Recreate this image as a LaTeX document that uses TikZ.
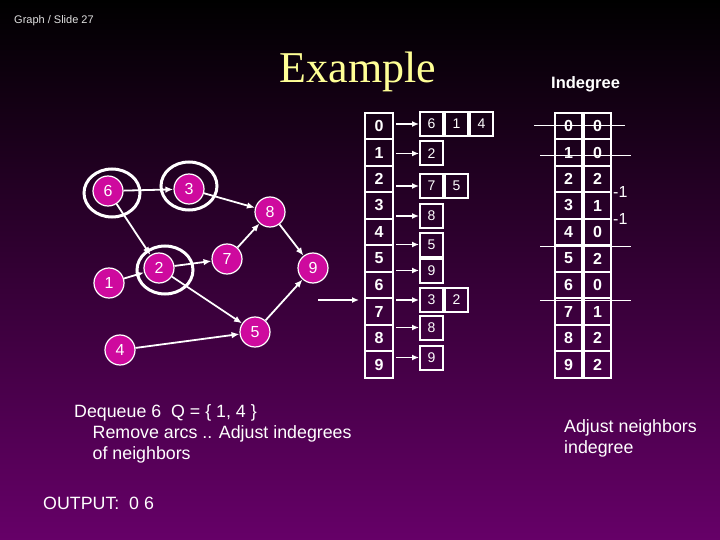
\documentclass[tikz,border=0pt]{standalone}
\usepackage{fontspec}
\setmainfont{Liberation Sans}
\newfontfamily\titlefont{Liberation Serif}
\usetikzlibrary{shapes, arrows, positioning, calc}
\usetikzlibrary{arrows.meta}

\definecolor{slidepurple}{RGB}{102,0,104}
\definecolor{vertexpink}{RGB}{206,10,158}
\definecolor{titleyellow}{RGB}{255,255,150}

\begin{document}
\begin{tikzpicture}[
    x=1pt, y=-1pt,
    vertex/.style={circle, draw=white, line width=1.2pt, fill=vertexpink, text=white, minimum size=30pt, inner sep=0pt, font=\fontsize{16}{16}\selectfont},
    ring/.style={draw=white, line width=3pt},
    line/.style={draw=white, line width=1.8pt, -{Latex[length=8pt,width=6.5pt]}},
    idxcell/.style={rectangle, draw=white, line width=2pt, minimum width=28pt, minimum height=26.5pt, inner sep=0pt, text=white, font=\bfseries\fontsize{16}{16}\selectfont},
    degcell/.style={idxcell, minimum width=27pt},
    lstcell/.style={rectangle, draw=white, line width=2pt, minimum width=23pt, minimum height=24pt, inner sep=0pt, text=white, font=\fontsize{14}{14}\selectfont},
    ptr/.style={draw=white, line width=1.5pt, -{Latex[length=7pt,width=6pt]}},
    strike/.style={draw=white, line width=1pt},
    txt/.style={text=white, anchor=base west, inner sep=0pt, font=\fontsize{17.8}{17.8}\selectfont}
]

% Background
\useasboundingbox (0pt,0pt) rectangle (720pt,-540pt);
\shade [top color=black, bottom color=slidepurple] (0pt,0pt) rectangle (720pt,-540pt);

% Nodes
\node [vertex] (v6) at (108,191) {6};
\node [vertex] (v3) at (189,189) {3};
\node [vertex] (v8) at (270,212) {8};
\node [vertex] (v2) at (159,268) {2};
\node [vertex] (v7) at (227,259) {7};
\node [vertex] (v9) at (313,268) {9};
\node [vertex] (v1) at (109,283) {1};
\node [vertex] (v5) at (255,332) {5};
\node [vertex] (v4) at (120,350) {4};

% Rings
\draw [ring] ([shift={(4,2)}]v6.center) ellipse [x radius=28, y radius=24];
\draw [ring] ([shift={(0,-3)}]v3.center) ellipse [x radius=28, y radius=24];
\draw [ring] ([shift={(6,2)}]v2.center) ellipse [x radius=28, y radius=24];

% Lines
\path [line] (v6) -- (v3);
\path [line] (v6) -- (v2);
\path [line] (v3) -- (v8);
\path [line] (v1) -- (v2);
\path [line] (v2) -- (v7);
\path [line] (v2) -- (v5);
\path [line] (v7) -- (v8);
\path [line] (v8) -- (v9);
\path [line] (v5) -- (v9);
\path [line] (v4) -- (v5);

% Adjacency lists
\foreach \i in {0,...,9}
  \node [idxcell] (idx\i) at (379, 126+26.5*\i) {\i};

\foreach \r/\y/\a in {0/124/6, 1/153.5/2, 2/186/7, 3/216/8, 4/244.5/5, 5/270.5/9, 6/300/3, 7/327.5/8, 8/357.5/9}
  \node [lstcell] (l\r a) at (431.5,\y) {\a};
\node [lstcell, right=0pt of l0a] (l0b) {1};
\node [lstcell, right=0pt of l0b] (l0c) {4};
\node [lstcell, right=0pt of l2a] (l2b) {5};
\node [lstcell, right=0pt of l6a] (l6b) {2};

\foreach \r in {0,...,8}
  \path [ptr] ([xshift=2pt]idx\r.east |- l\r a.west) -- (l\r a.west);

\coordinate (stub) at (318,300);
\path [ptr] (stub) -- ([xshift=-5pt]stub -| idx6.west);

% Indegree table
\foreach \i/\d in {0/0,1/0,2/2,3/1,4/0,5/2,6/0,7/1,8/2,9/2} {
  \node [degcell] (dk\i) at (568.5, 126+26.5*\i) {\i};
  \node [degcell, right=0pt of dk\i] (dv\i) {\d};
}

\path [strike] (534,126) -- (625,126);
\path [strike] (540,156) -- (631,156);
\path [strike] (540,246) -- (631,246);
\path [strike] (540,300.5) -- (631,300.5);

% Labels
\node [txt, text=white!88!black, font=\fontsize{11}{11}\selectfont] (slide) at (14,24) {Graph / Slide 27};
\node [anchor=base, inner sep=0pt, text=titleyellow, font=\titlefont\fontsize{44}{44}\selectfont] (title) at (358,83) {Example};
\node [txt, font=\bfseries\fontsize{16.5}{16.5}\selectfont] (indeg) at (551,89) {Indegree};
\node [txt, font=\fontsize{16}{16}\selectfont] (mone1) at (613,197) {-1};
\node [txt, font=\fontsize{16}{16}\selectfont] (mone2) at (613,225) {-1};

\node [txt] (dq1) at (74,417) {Dequeue 6\ \ Q = \{ 1, 4 \}};
\node [txt] (dq2) at (92.5,438) {Remove arcs .. Adjust indegrees};
\node [txt] (dq3) at (92.5,459) {of neighbors};
\node [txt] (outp) at (43,509) {OUTPUT:\ \ 0 6};
\node [txt] (adj1) at (564,432) {Adjust neighbors};
\node [txt] (adj2) at (564,453) {indegree};

\end{tikzpicture}
\end{document}
